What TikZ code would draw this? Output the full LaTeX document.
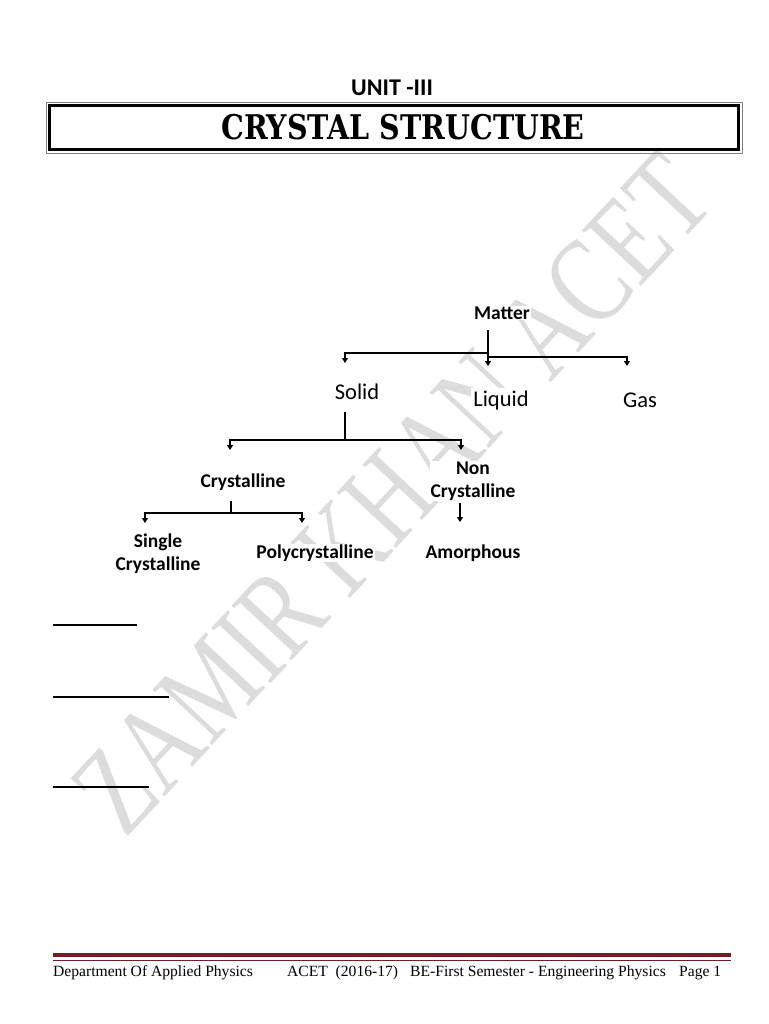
\documentclass[tikz,border=0pt]{standalone}
\usepackage{fontspec}
\usepackage{graphicx}
\setmainfont{Carlito}
\newfontfamily\titlefont{DejaVu Serif}
\newfontfamily\footfont{Liberation Serif}
\newfontfamily\markfont{Liberation Serif}
\usetikzlibrary{arrows.meta}
\definecolor{footred}{RGB}{112,30,34}
\definecolor{markgray}{RGB}{220,220,220}

\begin{document}
\begin{tikzpicture}[
    x=1pt, y=-1pt,
    boldlbl/.style={font=\fontsize{19.5}{22}\selectfont\bfseries, align=center, inner sep=1pt, fill=white},
    plainlbl/.style={font=\fontsize{22.5}{26}\selectfont, inner sep=2pt, fill=white},
    link/.style={line width=2.2pt},
    arr/.style={line width=2pt, -{Triangle[length=5pt, width=6pt]}},
    rule/.style={line width=#1},
    footlbl/.style={font=\footfont\fontsize{15.6}{18}\selectfont, anchor=base west, inner sep=0pt}
]
    \fill[white] (0,0) rectangle (768,1024);
    \useasboundingbox (0,0) rectangle (768,1024);

    % watermark
    \node[markgray, font=\markfont\fontsize{124}{124}\selectfont, rotate=47] (mark) at (392,494) {\scalebox{0.76}[1]{ZAMIR KHAN ACET}};

    % heading
    \node[font=\fontsize{24}{28}\selectfont\bfseries] (unit) at (392,88) {UNIT -III};
    \draw[rule=0.8pt, gray] (46,102) rectangle (742,153);
    \draw[rule=3pt] (49.5,105.5) rectangle (738.5,149.5);
    \node[font=\titlefont\bfseries\fontsize{34}{40}\selectfont] (title) at (403,127) {\scalebox{0.84}[1]{CRYSTAL STRUCTURE}};

    % tree
    \node[boldlbl] (matter) at (502,313) {Matter};
    \node[plainlbl] (solid) at (357,392) {Solid};
    \node[plainlbl] (liquid) at (501,400) {Liquid};
    \node[plainlbl] (gas) at (640,400) {Gas};
    \node[boldlbl] (cryst) at (243,482) {Crystalline};
    \node[boldlbl, font=\fontsize{19.5}{23}\selectfont\bfseries] (noncryst) at (473,481) {Non\\Crystalline};
    \node[boldlbl, font=\fontsize{19.5}{23}\selectfont\bfseries] (single) at (158,554) {Single\\Crystalline};
    \node[boldlbl] (poly) at (315,553) {Polycrystalline};
    \node[boldlbl] (amorph) at (473,553) {Amorphous};

    % junctions
    \coordinate (mattop) at (488,330);
    \coordinate (matjl) at (488,353);
    \coordinate (matjr) at (488,357);
    \coordinate (solidin) at (345,363);
    \coordinate (liquidin) at (488,366);
    \coordinate (gasin) at (627,366);
    \coordinate (solidtop) at (345,412);
    \coordinate (solidj) at (345,440);
    \coordinate (crystin) at (230,450);
    \coordinate (noncrystin) at (461,450);
    \coordinate (crysttop) at (231,501);
    \coordinate (crystj) at (231,513);
    \coordinate (singlein) at (145,523);
    \coordinate (polyin) at (302,523);
    \coordinate (amorphtop) at (460,503);
    \coordinate (amorphin) at (460,522);

    \draw[link] (mattop) -- (matjr);
    \draw[arr] (matjl) -| (solidin);
    \draw[arr] (matjr) -- (liquidin);
    \draw[arr] (matjr) -| (gasin);
    \draw[link] (solidtop) -- (solidj);
    \draw[arr] (solidj) -| (crystin);
    \draw[arr] (solidj) -| (noncrystin);
    \draw[link] (crysttop) -- (crystj);
    \draw[arr] (crystj) -| (singlein);
    \draw[arr] (crystj) -| (polyin);
    \draw[arr] (amorphtop) -- (amorphin);

    % blank underlines
    \draw[rule=2pt] (53,625) -- (137,625);
    \draw[rule=1.2pt] (53,697) -- (169,697);
    \draw[rule=2pt] (53,787) -- (149,787);

    % footer
    \draw[rule=4pt, footred] (53,955) -- (731,955);
    \draw[rule=1pt, footred] (53,960.5) -- (731,960.5);
    \node[footlbl] (dept) at (53,976) {Department Of Applied Physics};
    \node[footlbl] (acet) at (287,976) {ACET\ \ (2016-17)};
    \node[footlbl] (sem) at (410,976) {BE-First Semester - Engineering Physics};
    \node[footlbl] (page) at (679,976) {Page 1};
\end{tikzpicture}
\end{document}
